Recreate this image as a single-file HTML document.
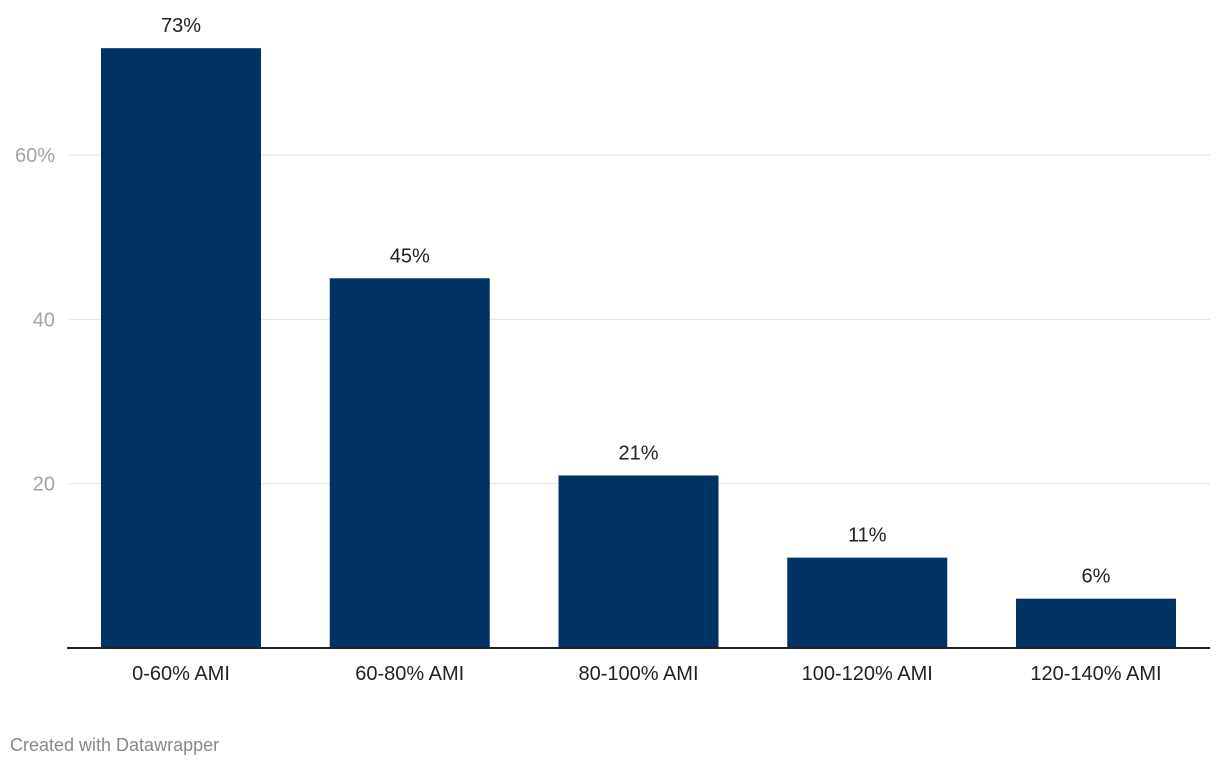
<!DOCTYPE html>
<html><head><meta charset="utf-8"><style>
body{margin:0;background:#fff;font-family:"Liberation Sans",sans-serif;}
svg text{font-family:"Liberation Sans",sans-serif;}
</style></head><body>
<svg width="1220" height="768" id="chart"></svg>
<script>
const categories=["0-60% AMI","60-80% AMI","80-100% AMI","100-120% AMI","120-140% AMI"];
const values=[73,45,21,11,6];
const valueLabels=["73%","45%","21%","11%","6%"];
const ticks=[20,40,60];
const tickLabels=["20","40","60%"];
const svg=document.getElementById('chart');
const NS="http://www.w3.org/2000/svg";
const y0=648,pxPerUnit=(648-155)/60;
const yScale=v=>y0-v*pxPerUnit;
const x0=101,step=228.75,bw=160;
const xScale=i=>x0+i*step;
function mk(t,a){const e=document.createElementNS(NS,t);for(const k in a)e.setAttribute(k,a[k]);svg.appendChild(e);return e;}
ticks.forEach((t,i)=>{
 const l=mk('line',{x1:69,x2:1210,y1:yScale(t),y2:yScale(t),stroke:'#e3e3e3','stroke-width':1});
 
 
 const tx=mk('text',{x:55,y:yScale(t)+7,'text-anchor':'end','font-size':20,fill:'#a3a3a3'});
 tx.textContent=tickLabels[i];
 
 
});
values.forEach((v,i)=>{
 const r=mk('rect',{x:xScale(i),y:yScale(v),width:bw,height:y0-yScale(v),fill:'#003263'});
 
 
 const t=mk('text',{x:xScale(i)+bw/2,y:yScale(v)-16,'text-anchor':'middle','font-size':20,fill:'#222'});
 t.textContent=valueLabels[i];
 
 
 const c=mk('text',{x:xScale(i)+bw/2,y:680,'text-anchor':'middle','font-size':20,fill:'#222'});
 c.textContent=categories[i];
 
 
});
const ax=mk('line',{x1:67,x2:1210,y1:y0,y2:y0,stroke:'#222','stroke-width':2});


const cr=mk('text',{x:10,y:751,'font-size':18,fill:'#888'});
cr.textContent="Created with Datawrapper";


</script>
</body></html>
